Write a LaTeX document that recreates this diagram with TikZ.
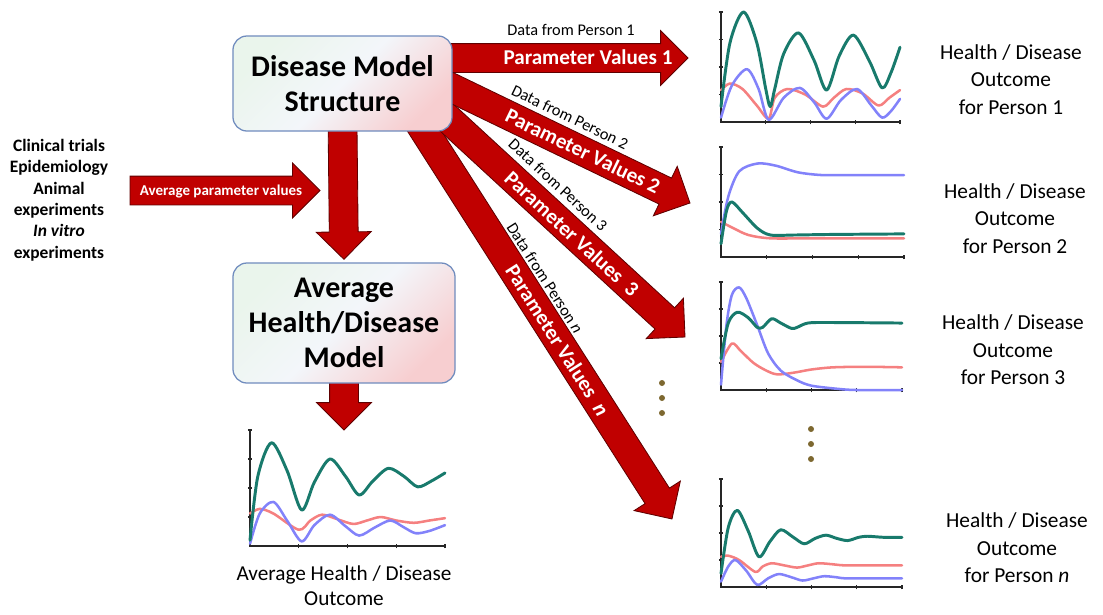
\documentclass[tikz,border=0pt]{standalone}
\usepackage{fontspec}
\setmainfont{Carlito}
\usetikzlibrary{calc,shapes.arrows}

\definecolor{arrowred}{RGB}{192,0,0}
\definecolor{arrowedge}{RGB}{95,0,0}
\definecolor{boxedge}{RGB}{112,140,190}
\definecolor{boxgreen}{RGB}{234,245,236}
\definecolor{boxmid}{RGB}{243,246,250}
\definecolor{boxpink}{RGB}{247,206,208}
\definecolor{curvegreen}{RGB}{24,122,108}
\definecolor{curvered}{RGB}{245,128,128}
\definecolor{curveblue}{RGB}{130,130,250}
\definecolor{dotbrown}{RGB}{125,104,48}

\pgfdeclarelayer{bg}
\pgfsetlayers{bg,main}

\newcommand{\fatarrow}[2]{%
  \path let \p1=($(#2)-(#1)$), \n1={veclen(\x1,\y1)}, \n2={atan2(\y1,\x1)} in
    (#1) node[bigarrow, minimum height=\n1, rotate=\n2, anchor=tail] {};}

\newcommand{\outplot}[6]{%
  \begin{scope}[shift={#1}, x=#2*0.025cm, y=#3*0.025cm]
    \draw[axisline] (0,1) -- (0,0) -- (1,0);
    \foreach \tk in {0.25,0.5,0.75,1} {
      \draw[axisline] (0,\tk) ++(-1.6pt,0) -- ++(3.2pt,0);
      \draw[axisline] (\tk,0) ++(0,-1.6pt) -- ++(0,3.2pt);
    }
    \draw[redline] plot[smooth] coordinates {#5};
    \draw[blueline] plot[smooth] coordinates {#6};
    \draw[greenline] plot[smooth] coordinates {#4};
  \end{scope}}

\begin{document}
\begin{tikzpicture}
  [x=0.025cm, y=-0.025cm,
   bigarrow/.style={single arrow, draw=arrowedge, fill=arrowred, line width=0.6pt,
     inner xsep=0pt, inner ysep=0.35cm, outer sep=0pt,
     single arrow head extend=0.325cm, single arrow tip angle=90},
   modelbox/.style={draw=boxedge, line width=0.9pt, rounded corners=0.35cm,
     left color=boxgreen, right color=boxpink, middle color=boxmid, shading angle=45,
     align=center, font=\fontsize{21.3}{25}\selectfont\bfseries},
   srctext/.style={align=center, font=\fontsize{12.4}{15.2}\selectfont\bfseries},
   datatext/.style={inner sep=0pt, font=\fontsize{11.6}{14}\selectfont},
   partext/.style={inner sep=0pt, text=white, font=\fontsize{15}{18}\selectfont\bfseries},
   outtext/.style={align=center, font=\fontsize{15.2}{19.6}\selectfont},
   axisline/.style={line width=0.9pt, black!85},
   greenline/.style={curvegreen, line width=2.1pt, line join=round, line cap=round},
   redline/.style={curvered, line width=1.8pt, line join=round, line cap=round},
   blueline/.style={curveblue, line width=1.8pt, line join=round, line cap=round}]
  \useasboundingbox (0,0) rectangle (1103,614);

  \node[modelbox, minimum width=5.475cm, minimum height=2.375cm] (dms) at (342.5,83.5) {Disease Model\\Structure};
  \node[modelbox, minimum width=5.55cm, minimum height=3cm] (ahdm) at (344,323) {Average\\Health/Disease\\Model};
  \node[srctext] (srcs) at (59,200) {Clinical trials\\Epidemiology\\Animal\\experiments\\\textit{In vitro}\\experiments};

  \coordinate (s0) at (130,190.5);
  \coordinate (t0) at (320,190.5);
  \coordinate (sd) at ($(dms.south)+(0,-10)$);
  \coordinate (td) at ($(ahdm.north)+(0,-3)$);
  \coordinate (se) at ($(ahdm.south)+(0,-10)$);
  \coordinate (te) at (344,430);
  \coordinate (s1) at (400,58);
  \coordinate (t1) at (688,58);
  \coordinate (s2) at (398,62);
  \coordinate (t2) at (690,203);
  \coordinate (s3) at (419,92);
  \coordinate (t3) at (685,337);
  \coordinate (sn) at (397,88);
  \coordinate (tn) at (672,519);

  \begin{pgfonlayer}{bg}
    \foreach \from/\to in {s0/t0,sd/td,se/te,sn/tn,s3/t3,s2/t2,s1/t1}
      \fatarrow{\from}{\to};
  \end{pgfonlayer}

  \node[partext, font=\fontsize{10.7}{13}\selectfont\bfseries] (avgpar) at (221,191) {Average parameter values};
  \node[datatext] (d1) at (571,30) {Data from Person 1};
  \node[partext] (v1) at (588,57) {Parameter Values 1};
  \node[datatext, rotate=-25.8] (d2) at (570,117) {Data from Person 2};
  \node[partext, rotate=-25.8] (v2) at (583,151) {Parameter Values 2};
  \node[datatext, rotate=-42.6] (d3) at (558,185) {Data from Person 3};
  \node[partext, rotate=-42.6] (v3) at (572,234) {Parameter Values~ 3};
  \node[datatext, rotate=-57.5] (dn) at (545,278) {Data from Person \textit{n}};
  \node[partext, rotate=-57.5] (vn) at (557.5,340) {Parameter Values~ \textit{n}};

  \outplot{(721,122)}{179}{110}
    {(0,0.14) (0.05,0.72) (0.126,1) (0.2,0.72) (0.25,0.3) (0.275,0.14) (0.3,0.3) (0.35,0.62) (0.433,0.81) (0.52,0.56) (0.59,0.29) (0.66,0.6) (0.74,0.79) (0.83,0.55) (0.9,0.31) (0.95,0.45) (1,0.68)}
    {(0,0.29) (0.05,0.35) (0.12,0.3) (0.2,0.15) (0.266,0.03) (0.3,0.22) (0.37,0.3) (0.47,0.25) (0.57,0.14) (0.63,0.22) (0.7,0.3) (0.79,0.26) (0.88,0.15) (0.94,0.22) (1,0.29)}
    {(0,0.04) (0.06,0.33) (0.145,0.48) (0.21,0.3) (0.266,0.02) (0.35,0.22) (0.44,0.31) (0.52,0.18) (0.59,0.03) (0.67,0.2) (0.76,0.3) (0.84,0.15) (0.9,0.04) (0.95,0.1) (1,0.21)};
  \outplot{(721,257)}{183}{110}
    {(0,0.12) (0.03,0.42) (0.06,0.5) (0.12,0.4) (0.2,0.26) (0.27,0.2) (0.4,0.2) (0.6,0.205) (1,0.21)}
    {(0,0.32) (0.07,0.26) (0.15,0.2) (0.27,0.17) (0.5,0.17) (1,0.17)}
    {(0,0.21) (0.04,0.55) (0.1,0.78) (0.2,0.85) (0.3,0.83) (0.42,0.77) (0.55,0.745) (0.7,0.745) (1,0.745)};
  \outplot{(721,390)}{181}{108}
    {(0,0.29) (0.04,0.62) (0.09,0.72) (0.15,0.67) (0.2,0.58) (0.23,0.58) (0.28,0.66) (0.33,0.62) (0.39,0.57) (0.42,0.58) (0.48,0.62) (0.6,0.625) (1,0.62)}
    {(0,0.26) (0.06,0.43) (0.11,0.36) (0.18,0.25) (0.25,0.18) (0.31,0.145) (0.4,0.16) (0.5,0.19) (0.62,0.21) (0.8,0.215) (1,0.21)}
    {(0,0.05) (0.03,0.6) (0.06,0.88) (0.1,0.95) (0.14,0.85) (0.2,0.6) (0.26,0.34) (0.33,0.18) (0.42,0.09) (0.5,0.04) (0.65,0.01) (0.75,0) (1,0)};
  \outplot{(721,587)}{181}{108}
    {(0,0.125) (0.04,0.55) (0.09,0.71) (0.15,0.52) (0.21,0.28) (0.27,0.42) (0.33,0.53) (0.4,0.46) (0.46,0.4) (0.52,0.45) (0.58,0.48) (0.64,0.45) (0.7,0.43) (0.76,0.46) (0.81,0.47) (0.9,0.46) (1,0.46)}
    {(0,0.28) (0.04,0.29) (0.1,0.25) (0.19,0.14) (0.23,0.19) (0.28,0.22) (0.35,0.2) (0.42,0.18) (0.48,0.2) (0.54,0.22) (0.62,0.21) (0.7,0.2) (1,0.2)}
    {(0,0.05) (0.04,0.19) (0.08,0.25) (0.14,0.15) (0.2,0.02) (0.26,0.08) (0.32,0.12) (0.39,0.09) (0.45,0.06) (0.51,0.08) (0.57,0.1) (0.64,0.09) (0.7,0.08) (1,0.08)};
  \outplot{(250,546)}{195}{116}
    {(0,0.05) (0.04,0.6) (0.11,0.89) (0.19,0.65) (0.265,0.31) (0.33,0.55) (0.41,0.75) (0.49,0.6) (0.56,0.44) (0.63,0.56) (0.71,0.67) (0.79,0.6) (0.86,0.51) (0.93,0.56) (1,0.63)}
    {(0,0.28) (0.05,0.32) (0.12,0.28) (0.25,0.14) (0.31,0.22) (0.37,0.27) (0.45,0.23) (0.53,0.19) (0.6,0.22) (0.67,0.25) (0.75,0.22) (0.84,0.2) (0.92,0.22) (1,0.24)}
    {(0,0.02) (0.05,0.28) (0.12,0.38) (0.19,0.22) (0.265,0.04) (0.33,0.18) (0.41,0.27) (0.49,0.17) (0.56,0.09) (0.64,0.16) (0.72,0.22) (0.79,0.16) (0.85,0.11) (0.92,0.13) (1,0.18)};

  \foreach \yy in {429,444,459} \fill[dotbrown] (811,\yy) circle (0.075cm);
  \foreach \yy in {383,398,413} \fill[dotbrown] (662,\yy) circle (0.075cm);

  \node[outtext] (o1) at (1011,79.5) {Health / Disease\\Outcome\\for Person 1};
  \node[outtext] (o2) at (1015,218.5) {Health / Disease\\Outcome\\for Person 2};
  \node[outtext] (o3) at (1013,350) {Health / Disease\\Outcome\\for Person 3};
  \node[outtext] (on) at (1017,548) {Health / Disease\\Outcome\\for Person \textit{n}};
  \node[align=center, font=\fontsize{15.1}{17.8}\selectfont] (avgout) at (344,586) {Average Health / Disease\\Outcome};
\end{tikzpicture}
\end{document}
